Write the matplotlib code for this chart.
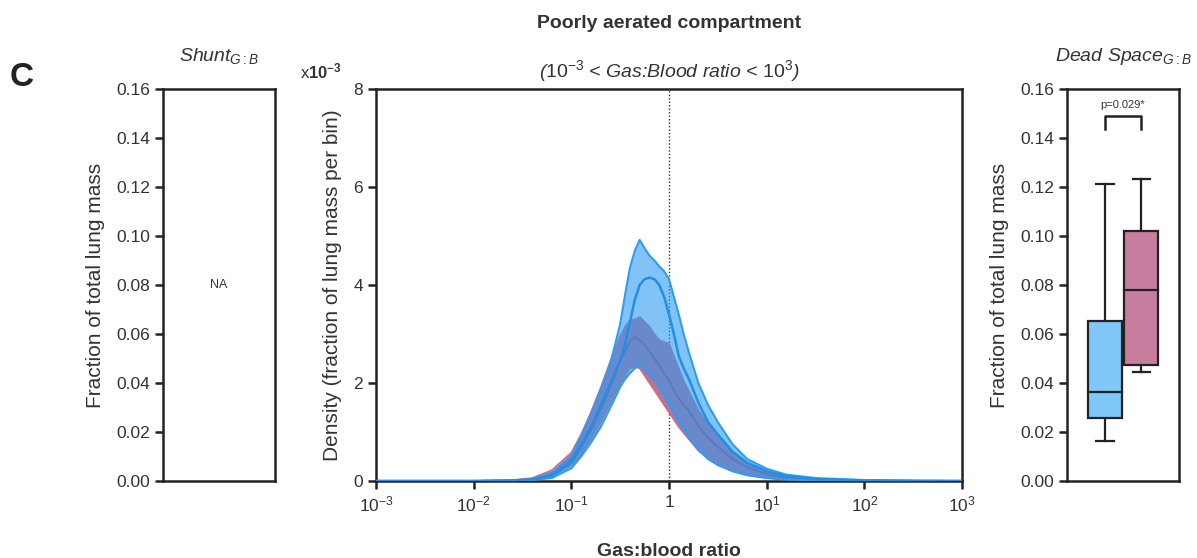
import numpy as np
import matplotlib
matplotlib.use("Agg")
import matplotlib.pyplot as plt

plt.rcParams['font.family'] = ['Liberation Sans', 'DejaVu Sans']
plt.rcParams['mathtext.fontset'] = 'custom'
plt.rcParams['mathtext.rm'] = 'Liberation Sans'
plt.rcParams['mathtext.it'] = 'Liberation Sans:italic'
plt.rcParams['mathtext.bf'] = 'Liberation Sans:bold'

# gas:blood ratio sample points (log10)
log_ratio = [-3, -2, -1.6, -1.4, -1.2, -1.0, -0.9, -0.8, -0.7, -0.6, -0.5, -0.45, -0.4,
             -0.35, -0.3, -0.25, -0.2, -0.15, -0.1, -0.05, 0, 0.05, 0.1, 0.15, 0.2, 0.3,
             0.4, 0.5, 0.65, 0.8, 1.0, 1.2, 1.5, 2.0, 2.5, 3.0]

# density x1e-3, blue group
blue_upper = [0, 0, 0.01, 0.04, 0.16, 0.5, 0.9, 1.35, 1.85, 2.4, 3.2, 3.8, 4.35, 4.7, 4.92,
              4.75, 4.6, 4.5, 4.38, 4.28, 4.12, 3.76, 3.4, 3.0, 2.65, 2.0, 1.55, 1.2, 0.75,
              0.45, 0.25, 0.13, 0.06, 0.02, 0.005, 0]
blue_mean = [0, 0, 0.005, 0.03, 0.11, 0.38, 0.7, 1.05, 1.48, 1.95, 2.45, 2.8, 3.25, 3.7,
             4.0, 4.12, 4.15, 4.12, 4.0, 3.76, 3.4, 3.0, 2.55, 2.3, 2.1, 1.6, 1.2, 0.95, 0.6,
             0.37, 0.2, 0.1, 0.04, 0.01, 0.003, 0]
blue_lower = [0, 0, 0.003, 0.02, 0.06, 0.26, 0.5, 0.78, 1.1, 1.5, 1.92, 2.08, 2.2, 2.3,
              2.37, 2.25, 2.15, 2.05, 1.92, 1.75, 1.55, 1.4, 1.2, 1.05, 0.9, 0.65, 0.45,
              0.33, 0.2, 0.12, 0.06, 0.03, 0.01, 0.003, 0, 0]

# density x1e-3, pink group
pink_upper = [0, 0, 0.02, 0.06, 0.22, 0.58, 0.95, 1.4, 1.9, 2.45, 2.95, 3.15, 3.28, 3.3,
              3.35, 3.25, 3.15, 3.0, 2.88, 2.84, 2.8, 2.55, 2.3, 2.05, 1.85, 1.45, 1.15,
              0.9, 0.6, 0.38, 0.2, 0.1, 0.04, 0.01, 0.003, 0]
pink_mean = [0, 0, 0.01, 0.04, 0.15, 0.45, 0.75, 1.1, 1.55, 2.0, 2.45, 2.65, 2.85, 2.94,
             2.88, 2.78, 2.65, 2.5, 2.35, 2.2, 2.05, 1.85, 1.68, 1.55, 1.45, 1.12, 0.88,
             0.7, 0.45, 0.28, 0.14, 0.07, 0.03, 0.008, 0.002, 0]
pink_lower = [0, 0, 0.005, 0.025, 0.1, 0.32, 0.55, 0.85, 1.2, 1.6, 2.0, 2.15, 2.3, 2.33,
              2.3, 2.15, 2.0, 1.85, 1.7, 1.55, 1.4, 1.25, 1.1, 0.98, 0.86, 0.62, 0.45,
              0.32, 0.2, 0.12, 0.06, 0.03, 0.01, 0.003, 0, 0]

# dead space box plot stats: whisker low, q1, median, q3, whisker high
blue_box = [0.0163, 0.0257, 0.0363, 0.0654, 0.1212]
pink_box = [0.0445, 0.0475, 0.0781, 0.1022, 0.1233]
p_label = "p=0.029*"

BLUE_LINE = "#1f8fe8"
BLUE_FILL = "#2f9cf2"
PINK_LINE = "#9a4a78"
PINK_FILL = "#c46f8f"
BOX_BLUE = "#80c8f8"
BOX_PINK = "#c77e9e"
TXT = "#333333"
LABEL_SIZE = 15


def style_axis(ax):
    for side in ax.spines.values():
        side.set_linewidth(1.8)
        side.set_color("#222222")
    ax.tick_params(axis='both', direction='out', length=6, width=1.8,
                   labelsize=12.5, labelcolor=TXT, color="#222222")


def draw_box(ax, pos, stats, color, width=0.95):
    lo, q1, med, q3, hi = stats
    ax.add_patch(plt.Rectangle((pos - width / 2, q1), width, q3 - q1,
                               facecolor=color, edgecolor="#222222", lw=1.6, zorder=3))
    ax.plot([pos - width / 2, pos + width / 2], [med, med], color="#222222", lw=1.6, zorder=4)
    ax.plot([pos, pos], [q3, hi], color="#222222", lw=1.6, zorder=2)
    ax.plot([pos, pos], [lo, q1], color="#222222", lw=1.6, zorder=2)
    cap = width * 0.25
    ax.plot([pos - cap, pos + cap], [hi, hi], color="#222222", lw=1.6)
    ax.plot([pos - cap, pos + cap], [lo, lo], color="#222222", lw=1.6)


fig = plt.figure(figsize=(11.97, 5.58), dpi=100)

frac_ticks = np.arange(0, 0.161, 0.02)

# left panel: shunt
ax_l = fig.add_axes([0.1362, 0.138, 0.0936, 0.7025])
style_axis(ax_l)
ax_l.set_ylim(0, 0.16)
ax_l.set_xlim(0, 1)
ax_l.set_yticks(frac_ticks)
ax_l.set_yticklabels([f"{v:.2f}" for v in frac_ticks])
ax_l.set_xticks([])
ax_l.set_ylabel("Fraction of total lung mass", fontsize=LABEL_SIZE, color=TXT, labelpad=8)
ax_l.text(0.5, 0.08, "NA", ha='center', va='center', fontsize=9, color=TXT)
ax_l.set_title(r"$\mathit{Shunt}_{\mathit{G{:}B}}$", fontsize=14, color=TXT, pad=20)

# middle panel: density
ax_m = fig.add_axes([0.3141, 0.138, 0.4896, 0.7025])
style_axis(ax_m)
x = np.power(10.0, log_ratio)
ax_m.fill_between(x, pink_lower, pink_upper, color=PINK_FILL, lw=0, zorder=2)
ax_m.plot(x, pink_upper, color=PINK_FILL, lw=1.2, zorder=2)
ax_m.plot(x, pink_lower, color=PINK_FILL, lw=1.2, zorder=2)
ax_m.plot(x, pink_mean, color=PINK_LINE, lw=1.5, zorder=3)
ax_m.fill_between(x, blue_lower, blue_upper, color=BLUE_FILL, alpha=0.6, lw=0, zorder=4)
ax_m.plot(x, blue_upper, color=BLUE_FILL, lw=1.5, zorder=5)
ax_m.plot(x, blue_lower, color=BLUE_FILL, lw=1.5, zorder=5)
ax_m.plot(x, blue_mean, color=BLUE_LINE, lw=1.8, zorder=6)
ax_m.axvline(1, color="#333333", lw=1, ls=(0, (1, 1.5)), zorder=1)
ax_m.set_xscale('log')
ax_m.set_xlim(1e-3, 1e3)
ax_m.set_ylim(0, 8)
ax_m.set_yticks([0, 2, 4, 6, 8])
ax_m.set_xticks([1e-3, 1e-2, 1e-1, 1, 1e1, 1e2, 1e3])
ax_m.set_xticklabels([r"$10^{-3}$", r"$10^{-2}$", r"$10^{-1}$", "1",
                      r"$10^{1}$", r"$10^{2}$", r"$10^{3}$"])
ax_m.minorticks_off()
ax_m.tick_params(axis='x', pad=4)
ax_m.set_ylabel("Density (fraction of lung mass per bin)", fontsize=LABEL_SIZE, color=TXT,
                labelpad=8)
ax_m.set_xlabel("Gas:blood ratio", fontsize=14, fontweight='bold', color=TXT, labelpad=20)
ax_m.text(-0.13, 1.045, r"x$\mathbf{10^{-3}}$", transform=ax_m.transAxes,
          fontsize=12, color=TXT, ha='left', va='center')
ax_m.text(0.5, 1.045, r"($\mathit{10^{-3}}$ < Gas:Blood ratio < $\mathit{10^{3}}$)",
          transform=ax_m.transAxes, fontsize=14, style='italic', color=TXT,
          ha='center', va='center')
fig.text(0.559, 0.958, "Poorly aerated compartment", fontsize=14, fontweight='bold',
         color=TXT, ha='center', va='center')

# right panel: dead space
ax_r = fig.add_axes([0.8914, 0.138, 0.0936, 0.7025])
style_axis(ax_r)
ax_r.set_ylim(0, 0.16)
ax_r.set_xlim(-1.05, 2.05)
ax_r.set_yticks(frac_ticks)
ax_r.set_yticklabels([f"{v:.2f}" for v in frac_ticks])
ax_r.set_xticks([])
draw_box(ax_r, 0, blue_box, BOX_BLUE)
draw_box(ax_r, 1, pink_box, BOX_PINK)
ax_r.plot([0, 0, 1, 1], [0.1437, 0.149, 0.149, 0.1437], color="#222222", lw=1.8)
ax_r.text(0.5, 0.1535, p_label, ha='center', va='center', fontsize=8, color=TXT)
ax_r.set_ylabel("Fraction of total lung mass", fontsize=LABEL_SIZE, color=TXT, labelpad=8)
ax_r.set_title(r"$\mathit{Dead\ Space}_{\mathit{G{:}B}}$", fontsize=14, color=TXT, pad=20)

fig.text(0.008, 0.862, "C", fontsize=24, fontweight='bold', color="#222222",
         ha='left', va='center')

fig.savefig("out.png", dpi=100)
